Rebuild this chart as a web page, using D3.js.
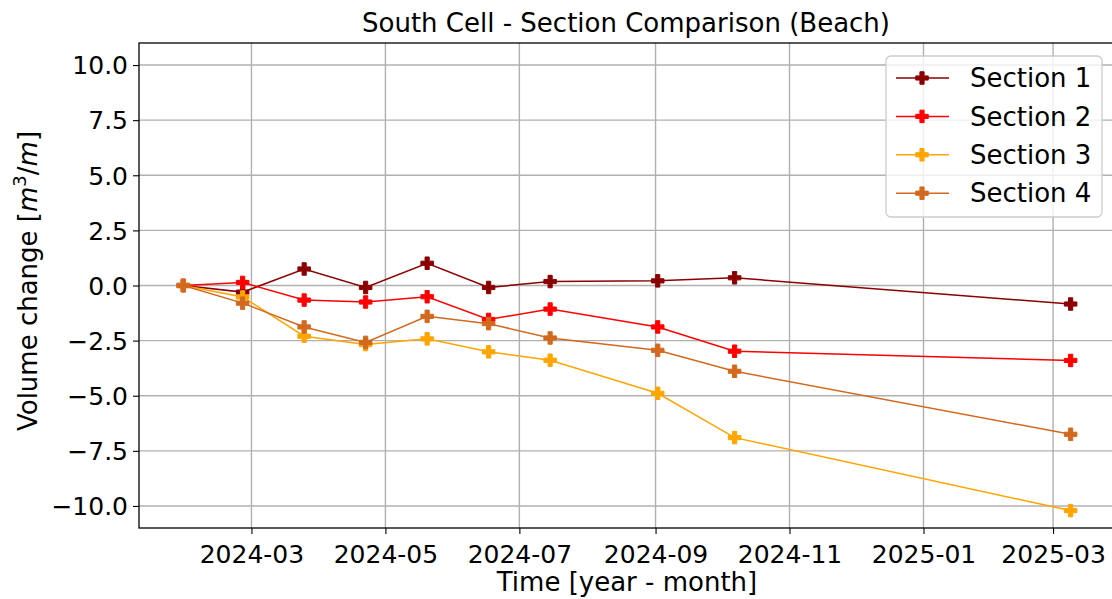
<!DOCTYPE html>
<html>
<head>
<meta charset="utf-8">
<script src="https://cdn.jsdelivr.net/npm/d3@7"></script>
<style>
  html, body { margin: 0; padding: 0; background: #fff; }
  svg { display: block; font-family: "DejaVu Sans", sans-serif; }
</style>
</head>
<body>
<svg id="chart" width="1112" height="599"></svg>
<script>
// Survey dates (one per beach survey)
const surveyDates = ["2024-01-30", "2024-02-26", "2024-03-25", "2024-04-22", "2024-05-20",
                     "2024-06-17", "2024-07-15", "2024-09-02", "2024-10-07", "2025-03-09"];

// Cumulative volume change per section [m3/m]
const section1 = [0, -0.30, 0.75, -0.09, 1.01, -0.09, 0.18, 0.21, 0.35, -0.84];
const section2 = [0, 0.14, -0.66, -0.75, -0.51, -1.54, -1.07, -1.88, -2.98, -3.40];
const section3 = [0, -0.52, -2.30, -2.68, -2.42, -3.01, -3.39, -4.89, -6.90, -10.21];
const section4 = [0, -0.80, -1.88, -2.58, -1.40, -1.73, -2.38, -2.94, -3.89, -6.75];

const seriesNames = ["Section 1", "Section 2", "Section 3", "Section 4"];
const seriesColors = ["#8b0000", "#ff0000", "#ffa500", "#d2691e"];

const yTicks = [-10, -7.5, -5, -2.5, 0, 2.5, 5, 7.5, 10];
const xTickLabels = ["2024-03", "2024-05", "2024-07", "2024-09", "2024-11", "2025-01", "2025-03"];

const title = "South Cell - Section Comparison (Beach)";
const xTitle = "Time [year - month]";

const parse = d3.timeParse("%Y-%m-%d");
const parseMonth = d3.timeParse("%Y-%m");
const dates = surveyDates.map(parse);
const allSeries = [section1, section2, section3, section4];

const svg = d3.select("#chart");
const margin = { left: 139, right: 1115, top: 43, bottom: 528 };

// x domain padded by 5% of the data span on each side
const t0 = +dates[0], t1 = +dates[dates.length - 1];
const pad = (t1 - t0) * 0.05;
const x = d3.scaleTime()
  .domain([new Date(t0 - pad), new Date(t1 + pad)])
  .range([margin.left, margin.right]);
const y = d3.scaleLinear().domain([-11, 11]).range([margin.bottom, margin.top]);

const xTickDates = xTickLabels.map(parseMonth);

// grid
const grid = svg.append("g");
grid.selectAll("line.gx").data(xTickDates).join("line")
  .attr("x1", d => x(d)).attr("x2", d => x(d))
  .attr("y1", margin.top).attr("y2", margin.bottom)
  .attr("stroke", "#b0b0b0").attr("stroke-width", 1.4);
grid.selectAll("line.gy").data(yTicks).join("line")
  .attr("x1", margin.left).attr("x2", margin.right)
  .attr("y1", d => y(d)).attr("y2", d => y(d))
  .attr("stroke", "#b0b0b0").attr("stroke-width", 1.4);

// axes
const fmtY = v => (v < 0 ? "\u2212" : "") + Math.abs(v).toFixed(1);
const xAxis = d3.axisBottom(x).tickValues(xTickDates)
  .tickFormat((d, i) => xTickLabels[i]).tickSizeOuter(0).tickSize(6).tickPadding(5);
const yAxis = d3.axisLeft(y).tickValues(yTicks).tickFormat(fmtY)
  .tickSizeOuter(0).tickSize(6).tickPadding(5);

const gx = svg.append("g").attr("transform", `translate(0,${margin.bottom})`).call(xAxis);
const gy = svg.append("g").attr("transform", `translate(${margin.left},0)`).call(yAxis);
[gx, gy].forEach(g => {
  g.select(".domain").remove();
  g.selectAll(".tick line").attr("stroke", "#000").attr("stroke-width", 1.1);
  g.selectAll(".tick text").attr("fill", "#000").attr("font-size", 25)
    .attr("font-family", "DejaVu Sans");
});
gx.selectAll(".tick text").attr("dy", "0.95em");
gy.selectAll(".tick text").attr("dy", "0.35em");

// lines and markers
const line = d3.line().x((d, i) => x(dates[i])).y(d => y(d));
const plusPath = s => {
  const a = s / 6;
  const p = [[-1,-3],[1,-3],[1,-1],[3,-1],[3,1],[1,1],[1,3],[-1,3],[-1,1],[-3,1],[-3,-1],[-1,-1]];
  return "M" + p.map(q => [q[0] * a, q[1] * a].join(",")).join("L") + "Z";
};
const markerPath = plusPath(12.5);

const plot = svg.append("g");
allSeries.forEach((vals, si) => {
  plot.append("path").datum(vals)
    .attr("d", line).attr("fill", "none")
    .attr("stroke", seriesColors[si]).attr("stroke-width", 1.5);
});
allSeries.forEach((vals, si) => {
  plot.selectAll(null).data(vals).join("path")
    .attr("d", markerPath)
    .attr("transform", (d, i) => `translate(${x(dates[i])},${y(d)})`)
    .attr("fill", seriesColors[si]).attr("stroke", seriesColors[si]).attr("stroke-width", 1);
});

// frame
svg.append("rect")
  .attr("x", margin.left).attr("y", margin.top)
  .attr("width", margin.right - margin.left).attr("height", margin.bottom - margin.top)
  .attr("fill", "none").attr("stroke", "#000").attr("stroke-width", 1.3);

// legend
const lg = svg.append("g");
lg.append("rect").attr("x", 886).attr("y", 56).attr("width", 216).attr("height", 161)
  .attr("rx", 5).attr("fill", "#fff").attr("fill-opacity", 0.8)
  .attr("stroke", "#cccccc").attr("stroke-width", 1.3);
seriesNames.forEach((name, i) => {
  const cy = 78 + i * 38.4;
  lg.append("line").attr("x1", 896).attr("x2", 949).attr("y1", cy).attr("y2", cy)
    .attr("stroke", seriesColors[i]).attr("stroke-width", 1.5);
  lg.append("path").attr("d", markerPath).attr("transform", `translate(922,${cy})`)
    .attr("fill", seriesColors[i]).attr("stroke", seriesColors[i]).attr("stroke-width", 1);
  lg.append("text").attr("x", 970).attr("y", cy).attr("dy", "0.35em")
    .attr("font-size", 26).attr("fill", "#000").text(name);
});

// titles
svg.append("text").attr("x", (margin.left + margin.right) / 2 - 1).attr("y", 32)
  .attr("text-anchor", "middle").attr("font-size", 26).attr("fill", "#000").text(title);
svg.append("text").attr("x", (margin.left + margin.right) / 2).attr("y", 591)
  .attr("text-anchor", "middle").attr("font-size", 26).attr("fill", "#000").text(xTitle);

const yl = svg.append("text")
  .attr("transform", `translate(37,281) rotate(-90)`)
  .attr("text-anchor", "middle").attr("font-size", 26).attr("fill", "#000");
yl.append("tspan").text("Volume change [");
yl.append("tspan").attr("font-style", "italic").text("m");
yl.append("tspan").attr("font-size", 18).attr("dy", "-0.6em").text("3");
yl.append("tspan").attr("dy", "0.4em").text("/");
yl.append("tspan").attr("font-style", "italic").text("m");
yl.append("tspan").text("]");
</script>
</body>
</html>
